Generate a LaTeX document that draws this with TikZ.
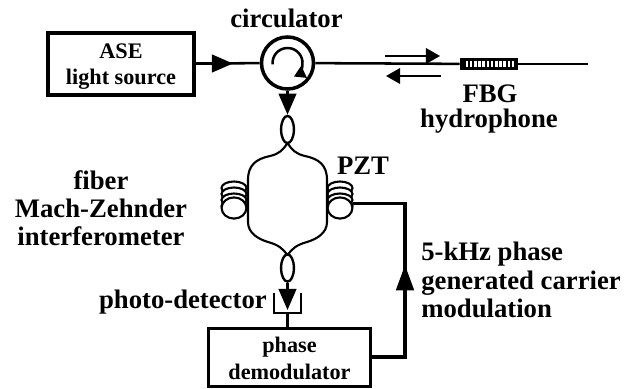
\documentclass[tikz,border=0pt]{standalone}
\usepackage{fontspec}
\setmainfont{Liberation Serif}
\usetikzlibrary{positioning,shapes.geometric,arrows.meta}
\newcommand{\txtsize}[1]{\fontsize{#1}{20.2}\selectfont\bfseries}
\tikzstyle{int}=[draw, line width=2.5pt, align=center, inner sep=0pt, minimum width=3.65cm, font=\txtsize{15.8}]
\tikzstyle{lab}=[inner sep=0pt, align=center, font=\txtsize{19}]
\tikzstyle{fibre}=[line width=1.8pt]
\tikzstyle{thin fibre}=[line width=1.5pt]
\tikzstyle{loopc}=[draw, ellipse, line width=1.7pt, minimum width=0.32cm, minimum height=0.68cm, inner sep=0pt]
\tikzstyle{head}=[line width=1.8pt, -{Triangle[length=15pt,width=12.5pt]}]
\tikzstyle{shead}=[line width=1.5pt, -{Triangle[length=10pt,width=11pt]}]
\begin{document}
\begin{tikzpicture}[x=0.025cm,y=-0.025cm]
\useasboundingbox (0,0) rectangle (631,388);

\node[int, minimum height=1.55cm] at (121,64) (source) {\rule{0pt}{14pt}ASE\\[-1.4pt]light source};
\node[draw, circle, line width=2.5pt, minimum size=1.3cm, inner sep=0pt] at (287.5,63) (circ) {};
\node[lab, anchor=base] at (286.5,27) (circlab) {circulator};
\draw[line width=1.8pt, -{Triangle[length=8pt,width=9pt]}] (272.6,64.3) arc (175:425:15);

\coordinate (end) at (588,64);
\node[fill=black, minimum width=1.45cm, minimum height=0.32cm, inner sep=0pt] at (489,64) (fbg) {};
\foreach \i in {0,...,11} {
  \fill[white] (465.5+\i*4.2,60.5) rectangle ++(2.6,6);
}
\draw[fibre] (circ) -- (fbg);
\draw[fibre] (fbg) -- (end);
\node[lab, anchor=base] at (490,102) (fbglab) {FBG};
\node[lab, anchor=base] at (489,127.5) (hydro) {hydrophone};

\coordinate (fwd0) at (385,56);
\coordinate (fwd1) at (440,56);
\coordinate (bwd0) at (441,76);
\coordinate (bwd1) at (386,76);
\draw[shead] (fwd0) -- (fwd1);
\draw[shead] (bwd0) -- (bwd1);

\coordinate (srctip) at (233,63.5);
\draw[fibre] (source.east |- srctip) -- (circ);
\draw[head] (source.east |- srctip) -- (srctip);

% coupler and arms
\node[loopc] at (287.5,129.5) (ctop) {};
\node[loopc] at (287.5,268) (cbot) {};
\draw[head] (circ) -- (ctop);
\coordinate (xtop) at (287.5,143);
\coordinate (xbot) at (287.5,255);
\draw[thin fibre] (xtop) .. controls (283,150) and (279,154) .. (270,156) .. controls (256,159) and (248,165) .. (248,180) -- (248,222) .. controls (248,233) and (258,239) .. (268,242) .. controls (279,245) and (283,249) .. (xbot);
\draw[thin fibre] (xtop) .. controls (292,150) and (296,154) .. (305,156) .. controls (319,159) and (327,165) .. (327,180) -- (327,222) .. controls (327,233) and (317,239) .. (307,242) .. controls (296,245) and (292,249) .. (xbot);

% coils
\foreach \c/\n in {234/L,340/R} {
  \foreach \y in {188,194,200,206} {
    \draw[thin fibre, fill=white] (\c,\y) ellipse (12.5 and 6.5);
  }
  \node[draw, ellipse, line width=1.5pt, fill=white, minimum width=0.62cm, minimum height=0.53cm, inner sep=0pt] at (\c,208) (coil\n) {};
}

\node[lab, anchor=base] at (363,174) (pzt) {PZT};
\node[lab, anchor=north] at (101,170) (mzi) {fiber\\Mach-Zehnder\\interferometer};

% detector
\coordinate (dettip) at (287.5,310);
\draw[head] (cbot) -- (dettip);
\node[int, minimum width=4.05cm, minimum height=1.45cm] at (289.5,357.5) (demod) {\rule{0pt}{12.5pt}phase\\[-1pt]demodulator};
\coordinate (duL) at (274,293);
\coordinate (dbL) at (274,313);
\coordinate (dbR) at (301,313);
\coordinate (duR) at (301,293);
\coordinate (detb) at (287.5,313);
\draw[fibre] (duL) -- (dbL) -- (dbR) -- (duR);
\draw[fibre] (detb) -- (demod.north -| detb);
\node[lab, anchor=base east] at (267,308) (detlab) {photo-detector};

% feedback
\coordinate (fbc) at (405,357);
\coordinate (fbt) at (405,203.5);
\coordinate (fbtip) at (405,265);
\draw[line width=2.2pt] (demod.east |- fbc) -- (fbc) -- (fbt) -- (coilR.east |- fbt);
\draw[line width=2.2pt, -{Triangle[length=18pt,width=12.5pt]}] (fbc) -- (fbtip);

\node[lab, anchor=north west, align=left] at (421,242) (modlab) {5-kHz phase\\generated carrier\\modulation};
\end{tikzpicture}
\end{document}
